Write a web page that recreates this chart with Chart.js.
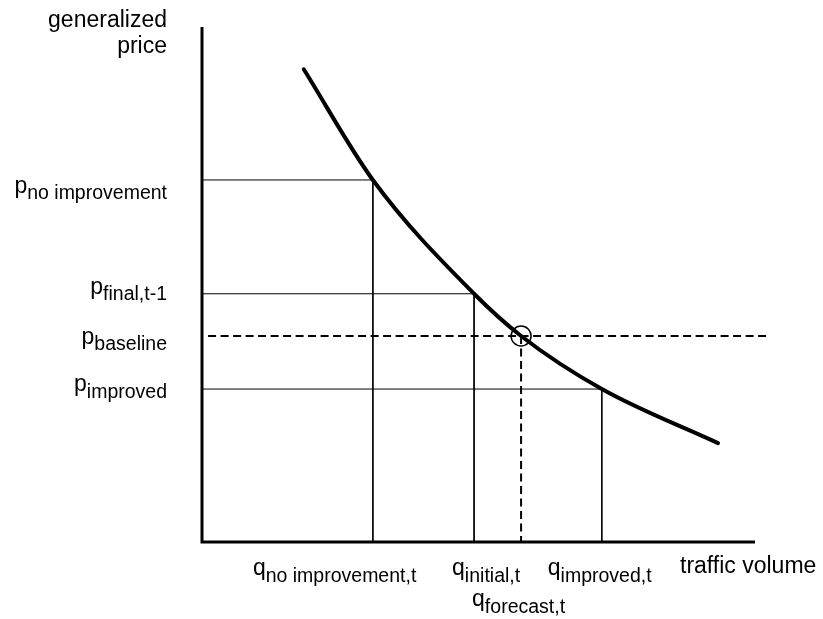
<!DOCTYPE html>
<html>
<head>
<meta charset="utf-8">
<script src="https://cdn.jsdelivr.net/npm/chart.js@4/dist/chart.umd.min.js"></script>
<style>
  html, body { margin: 0; padding: 0; background: #fff; }
  #wrap { width: 823px; height: 619px; }
</style>
</head>
<body>
<div id="wrap"><canvas id="c" width="823" height="619"></canvas></div>
<script>
// ---- data (axis units: 0..100 on both axes) ----
const demandCurveX = [18.4, 30.9, 49.2, 57.7, 72.3, 93.3];
const demandCurveY = [91.8, 70.3, 48.2, 40.0, 29.7, 19.2];

const priceNames  = ['no improvement', 'final,t-1', 'baseline', 'improved'];
const priceValues = [70.3, 48.2, 40.0, 29.7];        // p levels
const qtyNames    = ['no improvement,t', 'initial,t', 'forecast,t', 'improved,t'];
const qtyValues   = [30.9, 49.2, 57.7, 72.3];          // q levels

const baselineDashStartX = 1.1;
const baselineDashEndX = 102.4;
const axisMaxX = 100;
const axisMaxY = 100;

const yAxisTitle = ['generalized', 'price'];
const xAxisTitle = 'traffic volume';

// ---- build datasets ----
const pt = (x, y) => ({x, y});
const datasets = [];

// axes (L-shaped polyline)
datasets.push({
  data: [pt(0, axisMaxY), pt(0, 0), pt(axisMaxX, 0)],
  borderColor: '#000', borderWidth: 3, borderJoinStyle: 'miter',
  pointRadius: 0, showLine: true, tension: 0, clip: false, order: 1
});

// solid guide lines: no improvement, final, improved
[0, 1, 3].forEach(i => {
  datasets.push({
    data: [pt(0, priceValues[i]), pt(qtyValues[i], priceValues[i]), pt(qtyValues[i], 0)],
    borderColor: '#000', borderWidth: 1, pointRadius: 0, showLine: true, tension: 0, order: 3
  });
});

// dashed baseline lines
datasets.push({
  data: [pt(baselineDashStartX, priceValues[2]), pt(baselineDashEndX, priceValues[2])],
  borderColor: '#000', borderWidth: 2, borderDash: [8, 4.5], pointRadius: 0,
  showLine: true, tension: 0, clip: false, order: 3
});
datasets.push({
  data: [pt(qtyValues[2], priceValues[2]), pt(qtyValues[2], 0)],
  borderColor: '#000', borderWidth: 2, borderDash: [8, 4.5], pointRadius: 0,
  showLine: true, tension: 0, order: 3
});

// demand curve
datasets.push({
  data: demandCurveX.map((x, i) => pt(x, demandCurveY[i])),
  borderColor: '#000', borderWidth: 4, pointRadius: 0, showLine: true,
  cubicInterpolationMode: 'monotone', borderCapStyle: 'round', order: 0
});

// equilibrium circle
datasets.push({
  data: [pt(qtyValues[2], priceValues[2])],
  pointRadius: 10, pointBorderWidth: 1.5, pointBorderColor: '#000',
  pointBackgroundColor: 'rgba(0,0,0,0)', showLine: false, order: -1
});

// ---- text labels plugin ----
const MAIN = '23px "Liberation Sans", Arial, sans-serif';
const SUB = '19.5px "Liberation Sans", Arial, sans-serif';

function drawSubLabel(ctx, main, sub, x, baseline, align) {
  ctx.font = MAIN; const wm = ctx.measureText(main).width;
  ctx.font = SUB;  const ws = ctx.measureText(sub).width;
  let left = align === 'right' ? x - wm - ws : x;
  ctx.textAlign = 'left';
  ctx.font = MAIN; ctx.fillText(main, left, baseline);
  ctx.font = SUB;  ctx.fillText(sub, left + wm, baseline + 6.5);
}

const labelPlugin = {
  id: 'labels',
  afterDraw(chart) {
    const ctx = chart.ctx;
    const xs = chart.scales.x, ys = chart.scales.y;
    ctx.save();
    ctx.fillStyle = '#000';
    ctx.textBaseline = 'alphabetic';
    // y-axis title (right aligned)
    ctx.font = MAIN; ctx.textAlign = 'right';
    ctx.fillText(yAxisTitle[0], 167, 27);
    ctx.fillText(yAxisTitle[1], 167, 53);
    // price labels
    const pOffsets = [13, 0, 7.5, 2];
    priceNames.forEach((n, i) => {
      const yb = ys.getPixelForValue(priceValues[i]) + pOffsets[i];
      drawSubLabel(ctx, 'p', n, 167, yb, 'right');
    });
    // quantity labels
    const axisY = ys.getPixelForValue(0);
    const qLeftShift = [120, 22, 49, 54];
    const qRow = [33, 33, 64, 33];
    qtyNames.forEach((n, i) => {
      const xp = xs.getPixelForValue(qtyValues[i]) - qLeftShift[i];
      drawSubLabel(ctx, 'q', n, xp, axisY + qRow[i], 'left');
    });
    // x axis title
    ctx.font = MAIN; ctx.textAlign = 'left';
    ctx.fillText(xAxisTitle, 680, axisY + 31);
    ctx.restore();
  }
};

new Chart(document.getElementById('c'), {
  type: 'scatter',
  data: { datasets },
  options: {
    responsive: false,
    animation: false,
    devicePixelRatio: 1,
    layout: { padding: { left: 202, right: 68, top: 27, bottom: 77 } },
    plugins: { legend: { display: false }, tooltip: { enabled: false } },
    scales: {
      x: { type: 'linear', min: 0, max: axisMaxX, display: false },
      y: { type: 'linear', min: 0, max: axisMaxY, display: false }
    }
  },
  plugins: [labelPlugin]
});
</script>
</body>
</html>
